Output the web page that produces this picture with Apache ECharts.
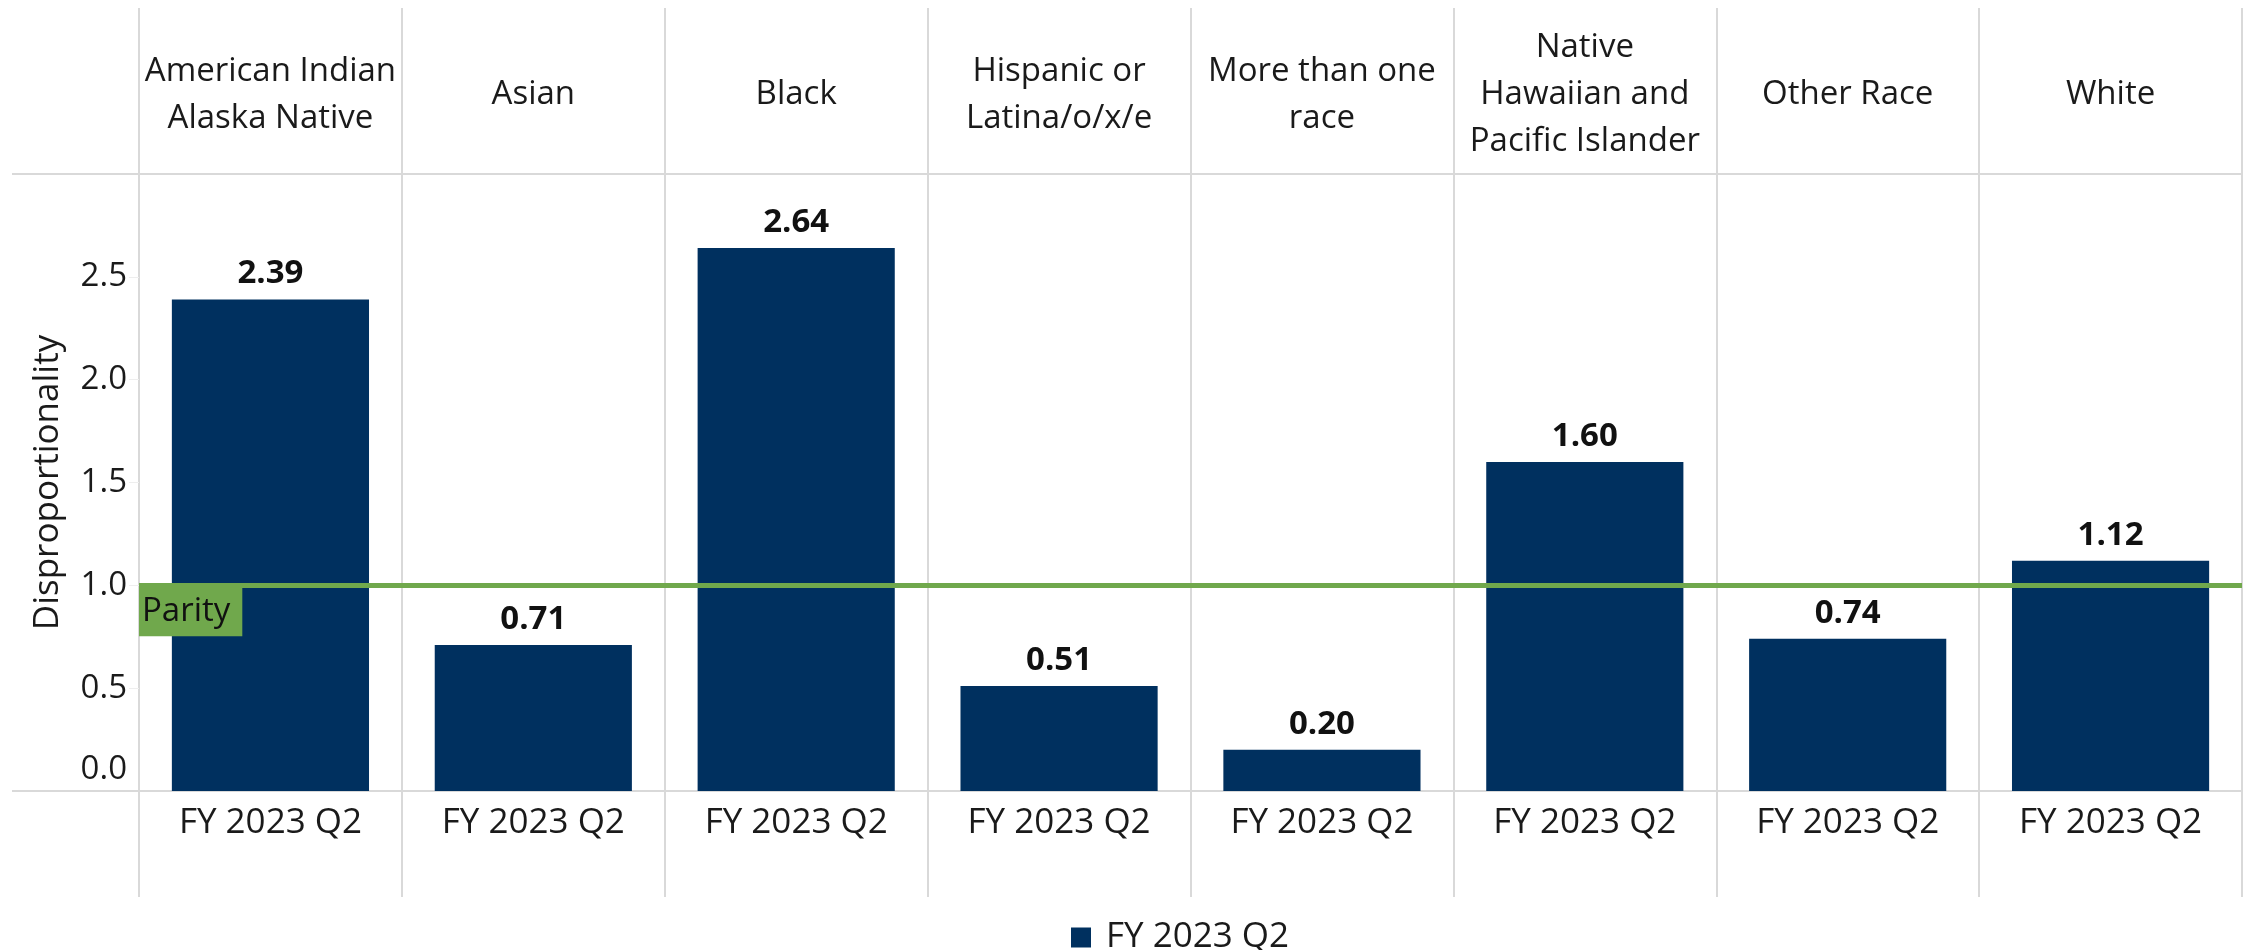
<!DOCTYPE html>
<html>
<head>
    <meta http-equiv="Content-Type" content="text/html; charset=utf-8">
    <script type="text/javascript" src="https://cdn.jsdelivr.net/npm/echarts@6/dist/echarts.min.js"></script>
    <style>
        html, body { margin: 0; padding: 0; background: #fff; }
        #dom { width: 2252px; height: 950px; }
    </style>
</head>
<body>
<div id="dom"></div>
<script type="text/javascript">
    // categories (header row) and the single period shown under each bar
    var races = ['American Indian\nAlaska Native', 'Asian', 'Black', 'Hispanic or\nLatina/o/x/e',
        'More than one\nrace', 'Native\nHawaiian and\nPacific Islander', 'Other Race', 'White'];
    var period = 'FY 2023 Q2';
    var values = [2.39, 0.71, 2.64, 0.51, 0.20, 1.60, 0.74, 1.12];
    var parity = 1.0;
    var yTicks = [0, 0.5, 1.0, 1.5, 2.0, 2.5];

    var FONT = '"Open Sans", "Noto Sans", sans-serif';
    var TXT = '#1a1a1a';
    var RULE = '#d9d9d9';
    var NAVY = '#00305f';
    var GREEN = '#70a84c';

    // layout, px
    var L = 139, R = 10, TOP = 174, BASE = 791, HEAD_TOP = 8, FOOT_END = 897, W = 2252, H = 950;

    var dom = document.getElementById('dom');
    var myChart = echarts.init(dom, null, {renderer: 'canvas'});

    var catAxis = function (grid, extra) {
        var a = {
            type: 'category',
            gridIndex: grid,
            data: races,
            boundaryGap: true,
            axisLine: {show: false},
            axisTick: {show: false},
            axisLabel: {show: false},
            splitLine: {show: true, interval: 0, lineStyle: {color: RULE, width: 2}}
        };
        for (var k in extra) a[k] = extra[k];
        return a;
    };

    var option = {
        animation: false,
        textStyle: {fontFamily: FONT},
        grid: [
            {left: L, right: R, top: TOP, bottom: H - BASE},              // bars
            {left: L, right: R, top: HEAD_TOP, height: TOP - HEAD_TOP},   // header cells
            {left: L, right: R, top: BASE, height: FOOT_END - BASE}       // footer cells
        ],
        legend: {
            data: [period],
            left: 1066,
            top: 915,
            icon: 'rect',
            itemWidth: 20,
            itemHeight: 20,
            textStyle: {fontSize: 35, color: TXT, fontFamily: FONT, padding: [0, 0, 0, 10]}
        },
        xAxis: [
            catAxis(0, {
                axisLabel: {
                    show: true, interval: 0, margin: 32, verticalAlign: 'middle',
                    fontSize: 35, color: TXT, fontFamily: FONT,
                    formatter: function () { return period; }
                }
            }),
            catAxis(1, {
                position: 'bottom',
                axisLabel: {
                    show: true, inside: true, interval: 0, margin: TOP - 95,
                    verticalAlign: 'middle', lineHeight: 47,
                    fontSize: 33, color: TXT, fontFamily: FONT
                }
            }),
            catAxis(2, {})
        ],
        yAxis: [
            {
                type: 'value',
                gridIndex: 0,
                min: 0,
                max: 3,
                interval: 0.5,
                name: 'Disproportionality',
                nameLocation: 'middle',
                nameGap: 73,
                nameTextStyle: {fontSize: 35, color: TXT, fontFamily: FONT},
                axisLine: {show: false},
                axisTick: {show: true, length: 10, lineStyle: {color: '#eeeeee'}},
                splitLine: {show: false},
                axisLabel: {
                    margin: 12, fontSize: 33, color: TXT, fontFamily: FONT,
                    formatter: function (v) {
                        if (yTicks.indexOf(v) < 0) return '';
                        if (v === 0) return '{lo|0.0}';
                        return v.toFixed(1);
                    },
                    rich: {lo: {fontSize: 33, color: TXT, fontFamily: FONT, padding: [0, 0, 42, 0]}}
                }
            },
            {type: 'value', gridIndex: 1, show: false},
            {type: 'value', gridIndex: 2, show: false}
        ],
        graphic: [
            {type: 'line', z: 1, shape: {x1: 12, y1: TOP, x2: W - R, y2: TOP}, style: {stroke: RULE, lineWidth: 2}},
            {type: 'line', z: 1, shape: {x1: 12, y1: BASE, x2: W - R, y2: BASE}, style: {stroke: RULE, lineWidth: 2}}
        ],
        series: [
            {
                name: period,
                type: 'bar',
                xAxisIndex: 0,
                yAxisIndex: 0,
                data: values,
                barCategoryGap: '25%',
                itemStyle: {color: NAVY},
                label: {
                    show: true,
                    position: 'top',
                    distance: 9,
                    fontSize: 33,
                    fontWeight: 'bold',
                    color: '#111',
                    fontFamily: FONT,
                    formatter: function (p) { return p.value.toFixed(2); }
                },
                emphasis: {disabled: true},
                markLine: {
                    silent: true,
                    symbol: ['none', 'none'],
                    lineStyle: {color: GREEN, width: 5, type: 'solid'},
                    label: {
                        show: true,
                        position: 'insideStartBottom',
                        formatter: 'Parity',
                        distance: [0, 0],
                        backgroundColor: GREEN,
                        padding: [10, 12, 8, 3],
                        fontSize: 33,
                        color: '#111',
                        fontFamily: FONT
                    },
                    data: [{yAxis: parity}]
                }
            }
        ]
    };
    myChart.setOption(option, true);
</script>
</body>
</html>
